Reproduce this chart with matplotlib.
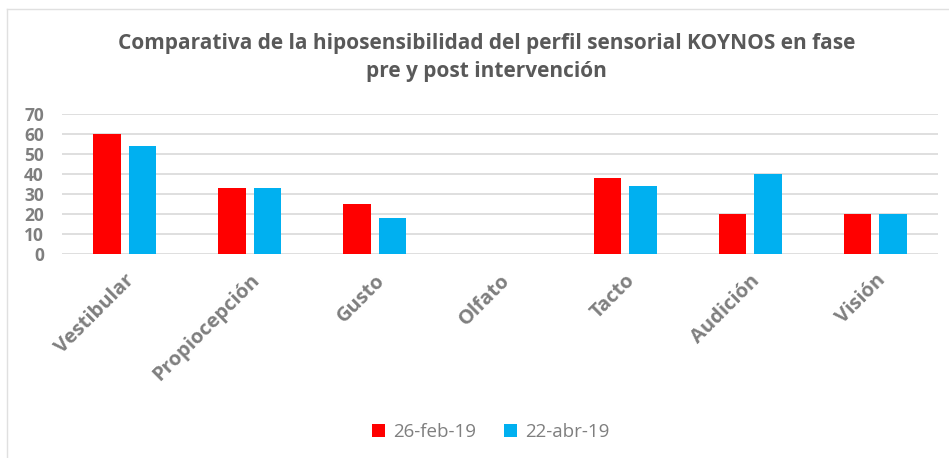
import matplotlib.pyplot as plt
import numpy as np
from matplotlib.lines import Line2D

categorias = ["Vestibular", "Propiocepción", "Gusto", "Olfato", "Tacto", "Audición", "Visión"]
pre = [60, 33, 25, 0, 38, 20, 20]     # 26-feb-19
post = [54, 33, 18, 0, 34, 40, 20]    # 22-abr-19
etiquetas = ["26-feb-19", "22-abr-19"]
yticks = [0, 10, 20, 30, 40, 50, 60, 70]

plt.rcParams['font.family'] = ['Open Sans', 'DejaVu Sans']

W, H = 949, 458
fig = plt.figure(figsize=(W/100, H/100), dpi=100)
ax = fig.add_axes([62/W, 1-254/H, (938-62)/W, 140/H])

# marco tenue del gráfico
fig.add_artist(Line2D([7/W, 7/W], [0, 1-9/H], color="#E0E0E0", lw=1))
fig.add_artist(Line2D([7/W, 1], [1-9/H, 1-9/H], color="#E0E0E0", lw=1))

x = np.arange(len(categorias))
w = 0.22
ax.bar(x - 0.142, pre, w, color="#FF0000", label=etiquetas[0], zorder=3)
ax.bar(x + 0.142, post, w, color="#00B0F0", label=etiquetas[1], zorder=3)

ax.set_xlim(-0.5, len(categorias) - 0.5)
ax.set_ylim(0, 70)
ax.set_yticks(yticks)
ax.yaxis.grid(True, color="#D9D9D9", linewidth=1.2, zorder=0)
for s in ax.spines.values():
    s.set_visible(False)
ax.tick_params(axis='both', length=0)
ax.tick_params(axis='y', pad=13)
for lab in ax.get_yticklabels():
    lab.set_fontsize(12.5)
    lab.set_fontweight('bold')
    lab.set_color("#7F7F7F")

ax.set_xticks(x)
ax.set_xticklabels(categorias, rotation=45, ha='right', va='top', rotation_mode='anchor',
                   fontsize=14.5, fontweight='bold', color="#7F7F7F")
ax.tick_params(axis='x', pad=12)

fig.text(0.513, 1-43/H, "Comparativa de la hiposensibilidad del perfil sensorial KOYNOS en fase",
         ha='center', va='center', fontsize=15, fontweight='bold', color="#595959")
fig.text(0.513, 1-72/H, "pre y post intervención",
         ha='center', va='center', fontsize=15, fontweight='bold', color="#595959")

fig.legend(loc='center', bbox_to_anchor=(0.517, 1-432/H), ncol=2, frameon=False,
           fontsize=13.5, handlelength=0.7, handleheight=0.7, handletextpad=0.4,
           columnspacing=1.5, labelcolor="#7F7F7F")

fig.savefig("out.png", dpi=100)
